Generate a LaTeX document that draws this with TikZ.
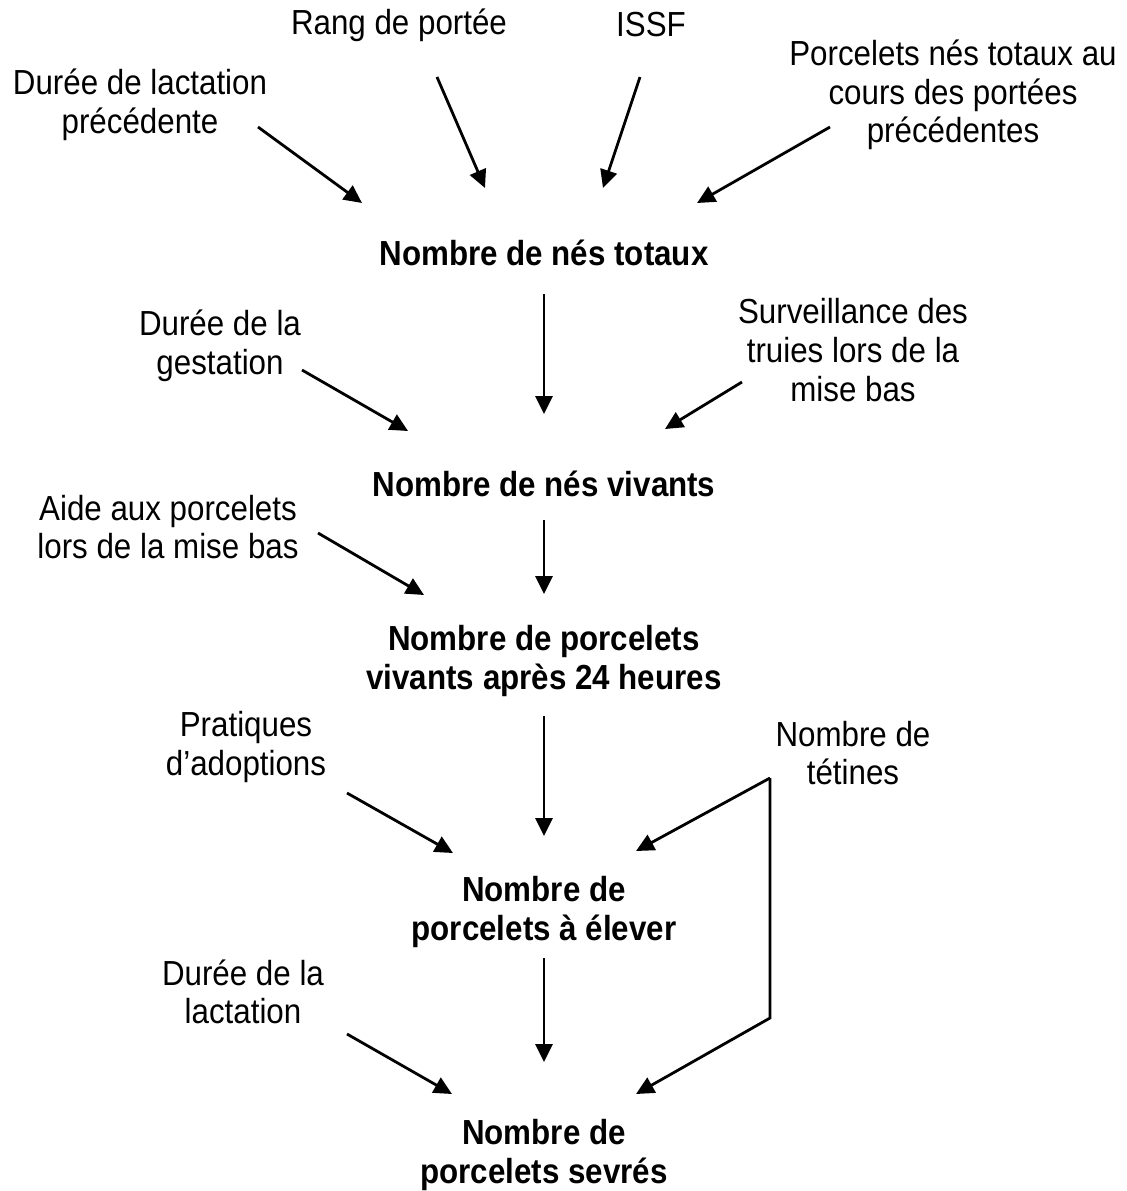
\documentclass[tikz,border=0pt]{standalone}
\usepackage{fontspec}
\setmainfont[FakeStretch=0.9]{Liberation Sans}
\usetikzlibrary{arrows.meta}
\tikzset{
  facteur/.style={align=center,inner sep=0pt,font=\fontsize{17.4}{19.3}\selectfont},
  resultat/.style={align=center,inner sep=0pt,font=\fontsize{17.4}{19.3}\selectfont\bfseries},
  fleche/.style={-{Triangle[length=9pt,width=8.5pt]},line width=1.4pt},
}

\begin{document}
\begin{tikzpicture}[x=0.5pt,y=-0.5pt]
\useasboundingbox (0,0) rectangle (1127,1191);
\node[facteur] (lactprec) at (140,105) {Durée de lactation\\précédente};
\node[facteur] (rang) at (399,25) {Rang de portée};
\node[facteur] (issf) at (651,25) {ISSF};
\node[facteur] (nesprec) at (953,95) {Porcelets nés totaux au\\cours des portées\\précédentes};
\node[resultat] (totaux) at (544,253) {Nombre de nés totaux};
\node[facteur] (gestation) at (220,346) {Durée de la\\gestation};
\node[facteur] (surveil) at (853,350) {Surveillance des\\truies lors de la\\mise bas};
\node[resultat] (vivants) at (544,484) {Nombre de nés vivants};
\node[facteur] (aide) at (168,527) {Aide aux porcelets\\lors de la mise bas};
\node[resultat] (vingtquatre) at (544,661) {Nombre de porcelets\\vivants après 24 heures};
\node[facteur] (adoptions) at (246,747) {Pratiques\\d’adoptions};
\node[facteur] (tetines) at (853,753) {Nombre de\\tétines};
\node[resultat] (elever) at (544,912) {Nombre de\\porcelets à élever};
\node[facteur] (lactation) at (243,992) {Durée de la\\lactation};
\node[resultat] (sevres) at (544,1155) {Nombre de\\porcelets sevrés};
\coordinate (coude) at ([shift={(-83,25)}]tetines.center);

\draw[fleche] ([shift={(118,22)}]lactprec.center) -- ([shift={(-182,-50)}]totaux.center);
\draw[fleche] ([shift={(38,52)}]rang.center) -- ([shift={(-59,-65)}]totaux.center);
\draw[fleche] ([shift={(-11,52)}]issf.center) -- ([shift={(59,-65)}]totaux.center);
\draw[fleche] ([shift={(-123,32)}]nesprec.center) -- ([shift={(153,-50)}]totaux.center);
\draw[fleche] ([shift={(0,41)}]totaux.center) -- ([shift={(0,-70)}]vivants.center);
\draw[fleche] ([shift={(82,24)}]gestation.center) -- ([shift={(-136,-53)}]vivants.center);
\draw[fleche] ([shift={(-111,32)}]surveil.center) -- ([shift={(121,-55)}]vivants.center);
\draw[fleche] ([shift={(0,36)}]vivants.center) -- ([shift={(0,-67)}]vingtquatre.center);
\draw[fleche] ([shift={(150,6)}]aide.center) -- ([shift={(-120,-66)}]vingtquatre.center);
\draw[fleche] ([shift={(0,55)}]vingtquatre.center) -- ([shift={(0,-76)}]elever.center);
\draw[fleche] ([shift={(101,46)}]adoptions.center) -- ([shift={(-91,-59)}]elever.center);
\draw[fleche] (coude) -- ([shift={(92,-61)}]elever.center);
\draw[fleche] (coude) -- ++(0,240) -- ([shift={(92,-61)}]sevres.center);
\draw[fleche] ([shift={(0,46)}]elever.center) -- ([shift={(0,-93)}]sevres.center);
\draw[fleche] ([shift={(104,42)}]lactation.center) -- ([shift={(-92,-61)}]sevres.center);
\end{tikzpicture}
\end{document}
